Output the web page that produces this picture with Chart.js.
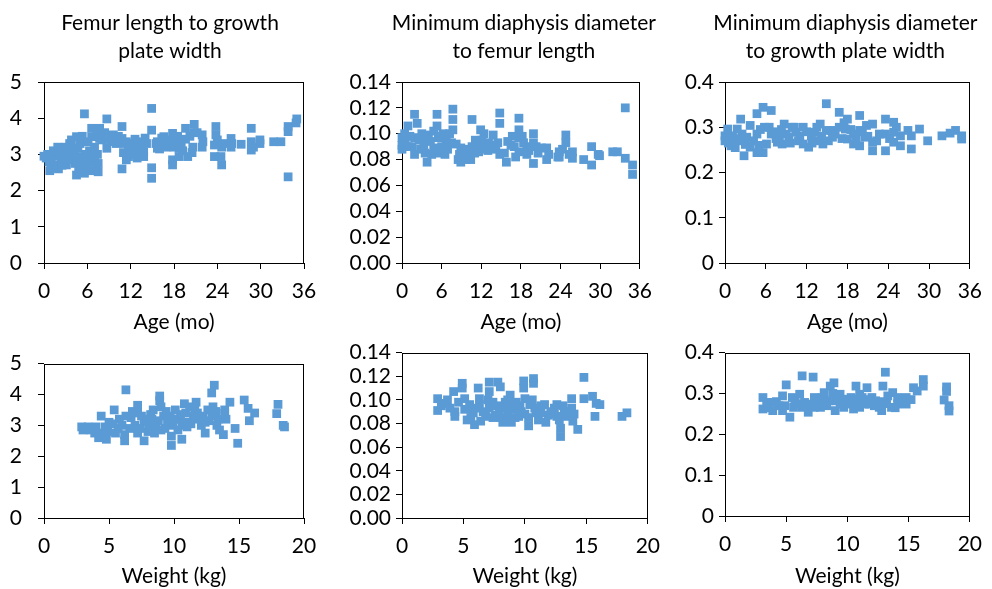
<!DOCTYPE html>
<html>
<head>
<meta charset="utf-8">
<script src="https://cdn.jsdelivr.net/npm/chart.js@4.4.1/dist/chart.umd.min.js"></script>
<style>
  html, body { margin: 0; padding: 0; background: #fff; }
  body { width: 992px; height: 589px; position: relative; overflow: hidden; }
  canvas { position: absolute; }
</style>
</head>
<body>
<canvas id="c1"></canvas>
<canvas id="c2"></canvas>
<canvas id="c3"></canvas>
<canvas id="c4"></canvas>
<canvas id="c5"></canvas>
<canvas id="c6"></canvas>
<script>
// ---------- Data ----------
const titleFlgp = ['Femur length to growth', 'plate width'];
const titleMddfl = ['Minimum diaphysis diameter', 'to femur length'];
const titleMddgp = ['Minimum diaphysis diameter', 'to growth plate width'];
const ageAxisTitle = 'Age (mo)';
const weightAxisTitle = 'Weight (kg)';

const ageTicks = [0, 6, 12, 18, 24, 30, 36];
const ageTickLabels = ['0', '6', '12', '18', '24', '30', '36'];
const weightTicks = [0, 5, 10, 15, 20];
const weightTickLabels = ['0', '5', '10', '15', '20'];
const flgpTicks = [0, 1, 2, 3, 4, 5];
const flgpTickLabels = ['0', '1', '2', '3', '4', '5'];
const mddflTicks = [0, 0.02, 0.04, 0.06, 0.08, 0.10, 0.12, 0.14];
const mddflTickLabels = ['0.00', '0.02', '0.04', '0.06', '0.08', '0.10', '0.12', '0.14'];
const mddgpTicks = [0, 0.1, 0.2, 0.3, 0.4];
const mddgpTickLabels = ['0', '0.1', '0.2', '0.3', '0.4'];

// Femur length / growth plate width vs age (mo)
const flgpByAge = [[0,2.95],[0.3,2.9],[0.7,2.8],[0.8,2.55],[1.0,2.65],[1.2,2.95],[1.5,2.71],[1.7,3.07],[1.9,3.2],[2.0,2.6],
[2.4,2.9],[2.8,2.85],[3.1,2.71],[3.3,3.0],[3.55,3.3],[3.6,2.97],[4.0,3.1],[4.3,2.75],[4.5,2.43],[4.5,3.49],
[4.5,2.8],[4.7,3.17],[5.0,3.3],[5.2,2.94],[5.4,2.6],[5.6,4.12],[5.6,2.48],[5.6,2.66],[5.8,3.0],[6.1,3.35],
[6.2,2.9],[6.6,3.72],[6.6,3.49],[6.6,2.8],[6.8,3.03],[7.0,3.2],[7.2,2.65],[7.5,2.52],[7.5,2.75],[7.7,3.72],
[7.7,3.44],[8.7,3.98],[8.7,3.49],[8.7,3.17],[9.6,3.54],[10.8,3.77],[10.8,3.44],[10.8,2.6],[11.1,3.3],[11.4,2.85],
[11.7,3.17],[11.7,2.94],[12.6,3.42],[12.9,3.1],[13.3,3.35],[13.8,3.07],[13.8,2.94],[14.2,3.3],[14.9,4.27],[14.9,3.67],
[14.9,2.63],[14.9,2.34],[15.7,3.35],[15.7,3.17],[16.6,3.49],[16.9,3.2],[17.2,3.35],[17.8,3.58],[17.8,2.85],[17.8,2.71],
[18.2,3.35],[18.7,3.17],[18.7,2.94],[19.6,3.72],[19.6,3.42],[19.9,2.94],[20.6,3.2],[20.8,3.83],[20.8,3.6],[21.9,3.54],
[21.9,3.2],[23.6,3.26],[23.6,2.94],[23.8,3.77],[23.8,3.54],[24.5,2.94],[24.6,2.71],[24.6,3.2],[25.9,3.44],[25.9,3.2],
[27.3,3.28],[28.7,3.72],[28.7,3.35],[28.7,3.12],[29.9,3.4],[29.9,3.3],[31.8,3.35],[32.8,3.35],[33.8,3.77],[33.8,3.63],
[33.8,2.38],[34.9,3.87],[35.0,3.98],[9.2,3.35],[10.0,3.3],[12.2,3.2],[12.9,2.9],[16.2,3.3],[2.6,3.05],
[0.5,3.0],[1.0,2.85],[1.3,3.1],[2.2,3.0],[2.5,2.7],[3.0,3.2],[3.3,2.85],[3.8,3.4],[4.2,3.0],[4.8,2.6],
[5.0,2.85],[5.3,3.5],[6.0,2.7],[6.3,3.1],[6.4,2.55],[7.0,2.9],[7.3,3.55],[7.4,3.0],[8.0,3.4],[8.4,3.6],
[9.0,3.45],[9.9,3.4],[10.3,3.5],[11.0,3.05],[11.4,3.35],[12.0,3.0],[12.4,3.3],[13.0,3.0],[13.5,3.2],[14.0,3.45],
[15.5,3.3],[16.3,3.45],[16.0,3.15],[17.5,3.4],[18.0,3.2],[18.5,3.5],[19.0,3.3],[19.2,3.1],[20.2,3.5],[20.5,3.05],
[21.2,3.6],[22.0,3.35],[24.0,3.4],[25.0,3.3],[26.0,3.3],[29.0,3.2]];

// Minimum diaphysis diameter / femur length vs age (mo)
const mddflByAge = [[33.8,0.12],[34.9,0.0758],[34.9,0.0685],[33.8,0.081],[32.6,0.086],[31.9,0.086],[29.9,0.083],[28.7,0.090],[28.7,0.0758],[27.5,0.080],
[25.8,0.081],[25.8,0.086],[24.8,0.099],[24.8,0.093],[23.8,0.086],[23.8,0.082],[21.9,0.080],[21.9,0.089],[21.1,0.089],[19.9,0.100],
[19.9,0.093],[19.9,0.077],[18.9,0.090],[17.7,0.112],[17.7,0.103],[17.7,0.097],[17.7,0.086],[16.7,0.098],[16.5,0.091],[15.8,0.078],
[14.8,0.116],[14.8,0.108],[14.8,0.084],[13.8,0.099],[13.1,0.093],[12.1,0.095],[11.9,0.103],[11.6,0.086],[10.6,0.111],[10.6,0.090],
[10.4,0.080],[8.9,0.078],[8.9,0.089],[7.7,0.119],[7.7,0.111],[7.7,0.103],[7.5,0.093],[6.5,0.084],[6.2,0.100],[5.5,0.097],
[5.3,0.115],[5.3,0.106],[4.8,0.089],[4.0,0.099],[3.8,0.078],[3.3,0.091],[2.3,0.108],[1.9,0.115],[1.9,0.084],[0.9,0.106],
[0.9,0.090],[0,0.097],[0,0.091],[1.9,0.097],[0.4,0.10],[4.5,0.084],[5.8,0.085],[6.7,0.094],[8.7,0.084],[9.9,0.082],
[11.1,0.095],[12.6,0.090],[13.6,0.091],[14.5,0.093],[15.5,0.085],[18.4,0.093],[18.9,0.084],[20.6,0.085],[23.6,0.082],[29.7,0.084],
[0,0.088],[2.8,0.088],[3.8,0.095],[11.4,0.089],
[0.5,0.094],[1.2,0.098],[1.5,0.09],[2.6,0.095],[3.0,0.1],[3.5,0.085],[4.3,0.094],[4.8,0.102],[5.8,0.098],[6.0,0.09],
[6.9,0.088],[7.2,0.1],[8.2,0.092],[8.5,0.08],[9.3,0.085],[9.6,0.08],[10.0,0.088],[11.0,0.085],[12.0,0.088],[12.4,0.1],
[13.0,0.087],[14.2,0.088],[16.0,0.094],[17.0,0.09],[17.2,0.082],[18.2,0.098],[19.2,0.087],[20.3,0.09],[22.2,0.084],[24.3,0.088],
[25.3,0.084]];

// Minimum diaphysis diameter / growth plate width vs age (mo)
const mddgpByAge = [[14.9,0.352],[5.6,0.344],[4.7,0.33],[6.8,0.337],[2.3,0.318],[3.7,0.304],[16.8,0.333],[18.0,0.318],[19.8,0.326],[20.8,0.304],
[21.7,0.307],[23.6,0.318],[24.8,0.311],[28.6,0.296],[27.4,0.281],[29.8,0.27],[27.4,0.252],[31.9,0.281],[33.9,0.293],[34.8,0.281],
[33.1,0.287],[34.8,0.274],[21.7,0.248],[21.7,0.267],[23.6,0.248],[23.6,0.285],[24.8,0.289],[25.8,0.259],[25.8,0.281],[24.8,0.267],
[19.8,0.259],[18.9,0.263],[18.9,0.285],[18.0,0.274],[16.8,0.30],[15.8,0.278],[14.9,0.293],[14.0,0.307],[13.7,0.27],[12.7,0.281],
[11.5,0.263],[11.5,0.30],[10.4,0.289],[9.4,0.278],[8.7,0.307],[8.0,0.278],[7.7,0.267],[6.8,0.285],[5.8,0.30],[6.1,0.263],
[4.7,0.285],[3.7,0.256],[2.8,0.237],[2.0,0.27],[1.1,0.281],[0.9,0.259],[0,0.281],[0,0.27],[4.7,0.244],[5.6,0.244],
[3.2,0.278],[10.8,0.27],[13.2,0.289],[14.4,0.263],[17.7,0.296],[20.6,0.278],[8.4,0.263],[12.3,0.256],[9.9,0.30],[1.8,0.296],
[15.6,0.293],[22.7,0.285],[26.9,0.293],[19.8,0.293],[0.4,0.296],
[0.5,0.265],[1.5,0.275],[1.5,0.255],[2.5,0.285],[3.0,0.262],[4.2,0.27],[5.0,0.26],[5.2,0.295],[6.5,0.3],[7.2,0.29],
[7.5,0.275],[8.3,0.295],[9.0,0.285],[9.6,0.265],[10.2,0.3],[11.0,0.28],[12.0,0.29],[12.8,0.265],[13.5,0.3],[14.2,0.28],
[15.2,0.27],[16.2,0.285],[17.2,0.275],[17.5,0.31],[18.5,0.295],[19.3,0.275],[20.2,0.29],[21.0,0.28],[22.3,0.27],[24.2,0.275],
[25.2,0.3]];

// Femur length / growth plate width vs weight (kg)
const flgpByWeight = [[6.3,4.15],[13.1,4.3],[8.9,3.95],[8.9,3.8],[12.9,4.05],[14.3,3.75],[15.4,3.82],[18.0,3.68],[17.9,3.38],[18.4,3.0],
[15.7,3.55],[16.2,3.4],[15.8,3.15],[7.2,3.65],[7.2,3.4],[5.4,3.5],[4.4,3.3],[2.9,2.95],[3.4,2.95],[3.9,2.75],
[4.2,2.6],[4.8,2.55],[4.9,2.8],[5.3,3.05],[6.2,2.7],[6.2,2.5],[5.8,3.2],[6.3,3.3],[7.0,3.0],[7.2,2.75],
[7.7,2.5],[8.0,2.8],[8.3,3.2],[8.4,3.5],[8.6,3.0],[9.2,3.3],[9.3,2.9],[9.8,2.65],[9.8,2.35],[10.6,2.55],
[10.1,3.5],[10.3,3.2],[10.8,3.7],[10.9,3.4],[11.3,3.05],[11.7,3.75],[11.8,3.4],[12.4,3.1],[12.4,2.75],[12.9,3.3],
[13.0,3.6],[13.5,2.85],[13.8,2.7],[13.9,3.4],[14.7,2.9],[14.9,2.42],[13.4,3.2],[13.9,3.5],[7.7,3.1],[5.7,2.9],
[4.7,2.95],[9.0,3.6],[9.5,3.1],[10.6,3.0],[11.5,3.3],[12.1,3.0],[12.6,3.5],[6.7,3.25],[7.5,3.3],[8.5,2.75],
[10.3,2.85],[11.2,3.6],[9.7,3.3],[8.1,3.0],[3.0,2.85],[18.5,2.95],
[3.6,2.85],[4.0,2.95],[4.5,2.75],[5.0,3.1],[5.5,2.75],[6.0,3.0],[6.6,2.9],[6.8,3.45],[7.4,2.9],[7.9,3.2],
[8.2,3.35],[8.8,3.15],[9.0,2.85],[9.4,3.45],[9.9,3.0],[10.0,3.2],[10.5,3.35],[10.9,3.1],[11.0,2.95],[11.6,3.5],
[11.9,3.2],[12.2,3.3],[12.7,3.15],[13.2,3.45],[13.3,3.0],[14.0,3.2]];

// Minimum diaphysis diameter / femur length vs weight (kg)
const mddflByWeight = [[14.8,0.119],[14.8,0.101],[10.7,0.118],[10.7,0.114],[9.9,0.116],[9.9,0.11],[7.8,0.115],[8.0,0.111],[7.1,0.115],[7.1,0.107],
[6.2,0.110],[4.9,0.114],[4.9,0.11],[4.2,0.107],[2.9,0.101],[2.9,0.091],[5.1,0.101],[6.3,0.101],[3.4,0.097],[4.3,0.09],
[4.3,0.086],[5.1,0.092],[5.3,0.083],[5.9,0.079],[6.4,0.082],[6.6,0.09],[6.3,0.096],[7.1,0.093],[7.4,0.098],[7.4,0.085],
[7.9,0.09],[8.2,0.081],[8.4,0.098],[8.8,0.104],[8.9,0.093],[8.9,0.081],[9.3,0.098],[9.7,0.09],[10.0,0.101],[10.3,0.078],
[10.3,0.085],[10.6,0.1],[10.8,0.093],[11.1,0.083],[11.6,0.096],[11.7,0.081],[12.1,0.09],[12.6,0.096],[12.8,0.083],[12.9,0.076],
[12.9,0.069],[13.2,0.09],[13.4,0.086],[13.8,0.101],[13.8,0.093],[13.9,0.082],[14.3,0.075],[15.5,0.103],[15.8,0.097],[15.7,0.086],
[16.1,0.096],[17.9,0.086],[18.3,0.089],[8.2,0.093],[8.6,0.087],[9.2,0.085],[11.3,0.089],[12.4,0.093],[5.8,0.089],[3.7,0.10],
[5.5,0.096],[7.6,0.087],[9.5,0.086],[10.4,0.096],
[3.2,0.095],[3.9,0.093],[4.6,0.098],[5.6,0.085],[6.0,0.093],[6.8,0.086],[7.0,0.1],[7.7,0.095],[8.0,0.085],[8.6,0.1],
[9.1,0.092],[9.6,0.095],[10.0,0.088],[10.9,0.089],[11.3,0.095],[11.9,0.087],[12.3,0.088],[12.6,0.086],[13.1,0.095],[13.6,0.09],
[14.0,0.088]];

// Minimum diaphysis diameter / growth plate width vs weight (kg)
const mddgpByWeight = [[13.1,0.352],[6.3,0.343],[7.2,0.34],[5.0,0.321],[4.7,0.294],[3.1,0.29],[3.1,0.262],[3.9,0.278],[3.9,0.258],[5.3,0.242],
[6.1,0.298],[6.5,0.278],[6.8,0.254],[7.3,0.29],[7.8,0.266],[8.1,0.302],[8.6,0.318],[8.9,0.326],[8.9,0.282],[9.4,0.298],
[9.7,0.266],[10.2,0.274],[10.5,0.262],[10.7,0.318],[11.0,0.298],[11.4,0.274],[11.6,0.314],[12.0,0.29],[12.6,0.266],[12.9,0.318],
[12.8,0.258],[13.3,0.294],[13.7,0.302],[13.6,0.266],[14.1,0.274],[14.8,0.29],[15.4,0.314],[15.7,0.306],[16.2,0.334],[16.2,0.318],
[18.1,0.316],[18.1,0.305],[17.9,0.284],[18.3,0.27],[18.3,0.257],[5.6,0.266],[5.7,0.284],[4.4,0.27],[7.3,0.266],[8.5,0.282],
[9.0,0.258],[9.9,0.286],[11.0,0.266],[11.8,0.274],[12.3,0.282],[14.1,0.29],[14.8,0.274],[3.4,0.278],[7.1,0.274],[8.1,0.274],
[9.4,0.274],[10.6,0.286],[4.7,0.258],[6.3,0.266],
[3.5,0.265],[4.2,0.28],[4.9,0.27],[5.5,0.29],[6.0,0.275],[6.8,0.27],[7.5,0.28],[7.9,0.29],[8.3,0.27],[8.8,0.3],
[9.2,0.29],[9.8,0.28],[10.3,0.29],[10.8,0.28],[11.2,0.29],[11.7,0.285],[12.2,0.27],[12.7,0.28],[13.2,0.275],[13.9,0.265],
[14.4,0.28],[15.2,0.285]];

// ---------- Rendering ----------
const FONT = 'Lato';
const INK = '#000000';
const POINT_COLOR = '#5B9BD5';
const FS = 21;
Chart.defaults.font.family = FONT;
Chart.defaults.color = INK;

const framePlugin = {
  id: 'frame',
  beforeDatasetsDraw(chart) {
    const a = chart.chartArea;
    const ctx = chart.ctx;
    ctx.save();
    ctx.strokeStyle = INK;
    ctx.lineWidth = 1;
    ctx.strokeRect(Math.round(a.left) + 0.5, Math.round(a.top) + 0.5,
                   Math.round(a.right - a.left) - 1, Math.round(a.bottom - a.top));
    ctx.restore();
  }
};

// Widen the title box so long titles are not squeezed to the plot width,
// and centre it with a small per-panel offset from the plot centre.
const titleBoxPlugin = {
  id: 'titleBox',
  afterLayout(chart, args, opts) {
    const tb = chart.titleBlock;
    if (!tb || !tb.options || !tb.options.display) return;
    const a = chart.chartArea;
    const c = (a.left + a.right) / 2 + (opts.shift || 0);
    const half = 200;
    tb.left = c - half; tb.right = c + half; tb.width = 2 * half;
  }
};

function makePanel(id, box, spec) {
  const canvas = document.getElementById(id);
  canvas.width = box.w; canvas.height = box.h;
  canvas.style.left = box.l + 'px'; canvas.style.top = box.t + 'px';
  canvas.style.width = box.w + 'px'; canvas.style.height = box.h + 'px';
  const pts = spec.points.map(p => ({x: p[0], y: p[1]}));
  return new Chart(canvas, {
    type: 'scatter',
    data: { datasets: [{
      data: pts,
      pointStyle: 'rect',
      pointRadius: 6.2,
      pointBorderWidth: 0,
      backgroundColor: POINT_COLOR,
      borderColor: POINT_COLOR,
      clip: false
    }]},
    options: {
      responsive: false,
      animation: false,
      devicePixelRatio: 1,
      layout: { padding: { top: box.padTop, right: box.padRight, left: 0, bottom: 0 } },
      plugins: {
        legend: { display: false },
        tooltip: { enabled: false },
        titleBox: { shift: box.titleShift || 0 },
        title: spec.title ? {
          display: true, text: spec.title, fullSize: false, color: INK,
          font: { family: FONT, size: FS, weight: 'normal', lineHeight: 28 / FS },
          padding: { top: 9, bottom: 17 }
        } : { display: false }
      },
      scales: {
        x: {
          type: 'linear', min: spec.xTicks[0], max: spec.xTicks[spec.xTicks.length - 1],
          afterBuildTicks: s => { s.ticks = spec.xTicks.map(v => ({ value: v })); },
          afterFit: s => { s.height = box.xH; },
          grid: { display: true, drawOnChartArea: false, drawTicks: true, tickLength: 6, color: INK, lineWidth: 1 },
          border: { display: false },
          ticks: { autoSkip: false, maxRotation: 0, padding: 10, color: INK,
                   font: { family: FONT, size: FS },
                   callback: (v, i) => spec.xLabels[i] },
          title: { display: true, text: spec.xTitle, color: INK,
                   font: { family: FONT, size: FS, lineHeight: 1.2 },
                   padding: { top: 0, bottom: box.xTitlePad } }
        },
        y: {
          type: 'linear', min: spec.yTicks[0], max: spec.yTicks[spec.yTicks.length - 1],
          afterBuildTicks: s => { s.ticks = spec.yTicks.map(v => ({ value: v })); },
          afterFit: s => { s.width = box.yW; },
          grid: { display: true, drawOnChartArea: false, drawTicks: true, tickLength: 6, color: INK, lineWidth: 1 },
          border: { display: false },
          ticks: { autoSkip: false, padding: box.yPad, color: INK,
                   font: { family: FONT, size: FS },
                   callback: (v, i) => spec.yLabels[i] }
        }
      }
    },
    plugins: [framePlugin, titleBoxPlugin]
  });
}

// Top row
makePanel('c1', { l: 0, t: 0, w: 330, h: 340, yW: 44, xH: 77, padRight: 26, padTop: 0, yPad: 16, xTitlePad: 5, titleShift: -4 },
  { points: flgpByAge, title: titleFlgp, xTicks: ageTicks, xLabels: ageTickLabels, yTicks: flgpTicks, yLabels: flgpTickLabels, xTitle: ageAxisTitle });
makePanel('c2', { l: 330, t: 0, w: 332, h: 340, yW: 72, xH: 77, padRight: 14, padTop: 0, yPad: 5, xTitlePad: 5, titleShift: 3 },
  { points: mddflByAge, title: titleMddfl, xTicks: ageTicks, xLabels: ageTickLabels, yTicks: mddflTicks, yLabels: mddflTickLabels, xTitle: ageAxisTitle });
makePanel('c3', { l: 660, t: 0, w: 332, h: 340, yW: 65, xH: 77, padRight: 13, padTop: 0, yPad: 5, xTitlePad: 5, titleShift: -2 },
  { points: mddgpByAge, title: titleMddgp, xTicks: ageTicks, xLabels: ageTickLabels, yTicks: mddgpTicks, yLabels: mddgpTickLabels, xTitle: ageAxisTitle });

// Bottom row
makePanel('c4', { l: 0, t: 335, w: 330, h: 254, yW: 44, xH: 71, padRight: 26, padTop: 17, yPad: 16, xTitlePad: 0 },
  { points: flgpByWeight, title: null, xTicks: weightTicks, xLabels: weightTickLabels, yTicks: flgpTicks, yLabels: flgpTickLabels, xTitle: weightAxisTitle });
makePanel('c5', { l: 330, t: 335, w: 340, h: 254, yW: 72, xH: 71, padRight: 15, padTop: 15, yPad: 5, xTitlePad: 0 },
  { points: mddflByWeight, title: null, xTicks: weightTicks, xLabels: weightTickLabels, yTicks: mddflTicks, yLabels: mddflTickLabels, xTitle: weightAxisTitle });
makePanel('c6', { l: 660, t: 335, w: 332, h: 254, yW: 65, xH: 73, padRight: 13, padTop: 15, yPad: 5, xTitlePad: 0 },
  { points: mddgpByWeight, title: null, xTicks: weightTicks, xLabels: weightTickLabels, yTicks: mddgpTicks, yLabels: mddgpTickLabels, xTitle: weightAxisTitle });
</script>
</body>
</html>
